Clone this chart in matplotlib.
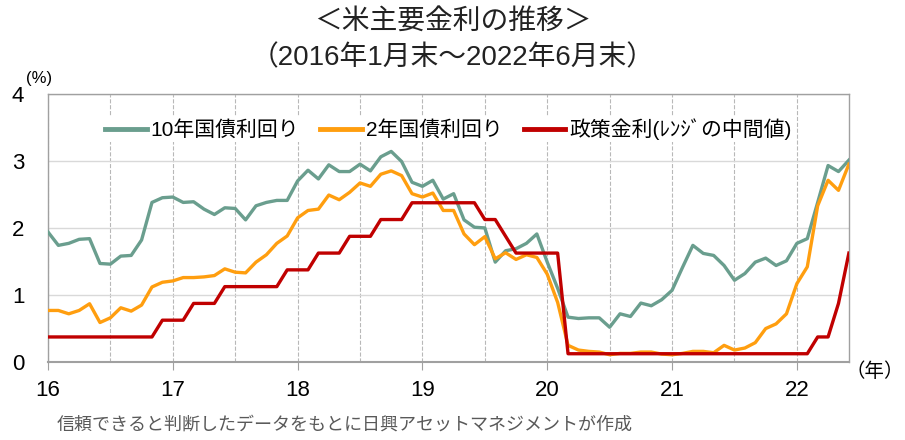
import numpy as np
import matplotlib
matplotlib.use('Agg')
import matplotlib.pyplot as plt
from matplotlib.ticker import MultipleLocator

plt.rcParams['font.family'] = ['Liberation Sans', 'Noto Sans CJK JP', 'DejaVu Sans']

#
# month-end yields, Jan 2016 - Jun 2022 (%)
ust10 = [1.94, 1.74, 1.77, 1.83, 1.84, 1.47, 1.46, 1.58, 1.59, 1.82, 2.38, 2.45,
         2.46, 2.38, 2.39, 2.28, 2.20, 2.30, 2.29, 2.12, 2.33, 2.38, 2.41, 2.41,
         2.70, 2.86, 2.73, 2.94, 2.84, 2.84, 2.95, 2.85, 3.06, 3.14, 2.99, 2.68,
         2.62, 2.71, 2.43, 2.51, 2.12, 2.01, 2.00, 1.49, 1.66, 1.69, 1.77, 1.91,
         1.49, 1.10, 0.67, 0.65, 0.66, 0.66, 0.52, 0.72, 0.68, 0.88, 0.84, 0.93,
         1.07, 1.41, 1.74, 1.62, 1.59, 1.44, 1.22, 1.32, 1.49, 1.55, 1.44, 1.51,
         1.77, 1.84, 2.38, 2.93, 2.84, 3.01]

ust2 = [0.77, 0.77, 0.72, 0.77, 0.87, 0.59, 0.66, 0.81, 0.76, 0.85, 1.12, 1.19,
        1.21, 1.26, 1.26, 1.27, 1.29, 1.39, 1.34, 1.33, 1.49, 1.60, 1.77, 1.88,
        2.15, 2.26, 2.28, 2.49, 2.42, 2.53, 2.67, 2.62, 2.80, 2.85, 2.78, 2.51,
        2.46, 2.52, 2.26, 2.26, 1.91, 1.75, 1.87, 1.54, 1.63, 1.53, 1.60, 1.56,
        1.31, 0.89, 0.25, 0.18, 0.16, 0.15, 0.11, 0.13, 0.13, 0.15, 0.15, 0.12,
        0.11, 0.13, 0.16, 0.16, 0.14, 0.25, 0.18, 0.21, 0.29, 0.50, 0.57, 0.72,
        1.17, 1.42, 2.33, 2.71, 2.56, 2.95]

# fed funds target range, mid point
ffr = [0.375]*11 + [0.625] +\
      [0.625, 0.625, 0.875, 0.875, 0.875, 1.125, 1.125, 1.125, 1.125, 1.125, 1.125, 1.375] +\
      [1.375, 1.375, 1.625, 1.625, 1.625, 1.875, 1.875, 1.875, 2.125, 2.125, 2.125, 2.375] +\
      [2.375]*6 + [2.125, 2.125, 1.875, 1.625, 1.625, 1.625] +\
      [1.625, 1.625] + [0.125]*10 +\
      [0.125]*12 +\
      [0.125, 0.125, 0.375, 0.375, 0.875, 1.625]

labels = ['10年国債利回り', '2年国債利回り', '政策金利(ﾚﾝｼﾞの中間値)']
years = [16, 17, 18, 19, 20, 21, 22]

t = 16 + np.arange(len(ust10))/12.0

fig = plt.figure(figsize=(9.05, 4.4), dpi=100)
ax = fig.add_axes([0.053, 0.177, 0.885, 0.610])

ax.plot(t, ust10, c='#6a9e8e', lw=2.4, label=labels[0], zorder=3)
ax.plot(t, ust2,  c='#ff9e0f', lw=2.4, label=labels[1], zorder=4)
ax.plot(t, ffr,   c='#c00000', lw=2.4, label=labels[2], zorder=5)

ax.set_xlim(t[0], t[-1])
ax.set_ylim(0, 4)
ax.set_xticks(years)
ax.set_xticklabels([str(y) for y in years])
ax.xaxis.set_minor_locator(MultipleLocator(0.5))
ax.set_yticks([0, 1, 2, 3, 4])

ax.grid(which='both', axis='x', color='#b8b8b8', ls='--', lw=0.8)
ax.grid(which='major', axis='y', color='#d9d9d9', ls='-', lw=1.0)
ax.set_axisbelow(True)

for s in ax.spines.values():
    s.set_color('#a0a0a0')
    s.set_linewidth(1.0)
ax.spines['bottom'].set_linewidth(1.5)

ax.tick_params(axis='x', which='major', direction='out', length=6, color='#a0a0a0',
               labelsize=16, pad=7)
ax.tick_params(axis='x', which='minor', length=0)
ax.tick_params(axis='y', length=0, labelsize=16, pad=17)

leg = ax.legend(loc='upper center', bbox_to_anchor=(0.5, 0.955), ncol=3, fontsize=15,
                frameon=True, handlelength=2.0, handletextpad=0.2, columnspacing=1.0,
                borderpad=0.1)
leg.get_frame().set_facecolor('white')
leg.get_frame().set_edgecolor('none')
leg.get_frame().set_alpha(1.0)
for h in leg.get_lines():
    h.set_linewidth(3.5)

fig.text(0.5, 0.95, '＜米主要金利の推移＞', ha='center', va='center', fontsize=20, color='#222222')
fig.text(0.5, 0.868, '（2016年1月末～2022年6月末）', ha='center', va='center', fontsize=20,
         color='#222222')
fig.text(0.029, 0.822, '(%)', ha='left', va='center', fontsize=12)
fig.text(0.967, 0.155, '（年）', ha='center', va='center', fontsize=14)
fig.text(0.063, 0.035, '信頼できると判断したデータをもとに日興アセットマネジメントが作成',
         ha='left', va='center', fontsize=13, color='#595959')

fig.savefig('out.png', dpi=100)
plt.close()
